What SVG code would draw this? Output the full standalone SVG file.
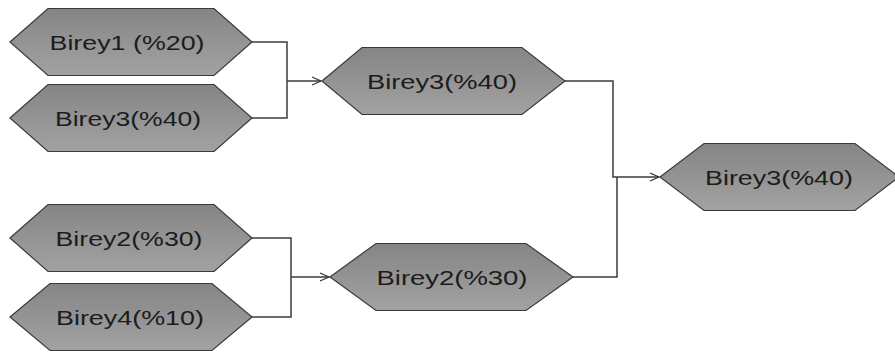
<svg xmlns="http://www.w3.org/2000/svg" width="895" height="354" viewBox="0 0 895 354">
<defs>
<linearGradient id="g" x1="0" y1="0" x2="0" y2="1">
<stop offset="0" stop-color="#858585"/>
<stop offset="1" stop-color="#a2a2a2"/>
</linearGradient>
<marker id="arr" markerWidth="12" markerHeight="10" refX="10" refY="5" orient="auto" markerUnits="userSpaceOnUse">
<path d="M1,1 L10,5 L1,9" fill="none" stroke="#333" stroke-width="1.2"/>
</marker>
</defs>
<style>
.hex{fill:url(#g);stroke:#3a3a3a;stroke-width:1.2}
.lbl{font-family:"Liberation Sans",Arial,sans-serif;font-size:20px;fill:#1c1c1c;text-anchor:middle}
.con{fill:none;stroke:#3c3c3c;stroke-width:1.5}
</style>
<g id="connectors">
<path class="con" d="M252,42 H287 V118 H252"/>
<path class="con" d="M287,81 H321" marker-end="url(#arr)"/>
<path class="con" d="M252,238 H291 V317 H252"/>
<path class="con" d="M291,277 H329" marker-end="url(#arr)"/>
<path class="con" d="M565,81 H613 V177 H659" marker-end="url(#arr)"/>
<path class="con" d="M573,277 H617 V177"/>
</g>
<g id="n1">
<polygon class="hex" points="10,42 48,8.5 214,8.5 252,42 214,75.5 48,75.5"/>
<text class="lbl" x="127" y="50" textLength="155" lengthAdjust="spacingAndGlyphs">Birey1 (%20)</text>
</g>
<g id="n2">
<polygon class="hex" points="10,118 48,84.5 214,84.5 252,118 214,151.5 48,151.5"/>
<text class="lbl" x="128" y="126" textLength="146" lengthAdjust="spacingAndGlyphs">Birey3(%40)</text>
</g>
<g id="n3">
<polygon class="hex" points="322,81 362,47.5 522,47.5 565,81 522,114.5 362,114.5"/>
<text class="lbl" x="442" y="89" textLength="150" lengthAdjust="spacingAndGlyphs">Birey3(%40)</text>
</g>
<g id="n4">
<polygon class="hex" points="660,177 704,143.5 855,143.5 899,177 855,210.5 704,210.5"/>
<text class="lbl" x="779" y="185" textLength="148" lengthAdjust="spacingAndGlyphs">Birey3(%40)</text>
</g>
<g id="n5">
<polygon class="hex" points="10,238 48,204.5 214,204.5 252,238 214,271.5 48,271.5"/>
<text class="lbl" x="129" y="246" textLength="147" lengthAdjust="spacingAndGlyphs">Birey2(%30)</text>
</g>
<g id="n6">
<polygon class="hex" points="10,317 50,283.5 212,283.5 252,317 212,350.5 50,350.5"/>
<text class="lbl" x="130" y="325" textLength="148" lengthAdjust="spacingAndGlyphs">Birey4(%10)</text>
</g>
<g id="n7">
<polygon class="hex" points="330,277 376,243.5 526,243.5 573,277 526,310.5 376,310.5"/>
<text class="lbl" x="452" y="285" textLength="151" lengthAdjust="spacingAndGlyphs">Birey2(%30)</text>
</g>
</svg>
